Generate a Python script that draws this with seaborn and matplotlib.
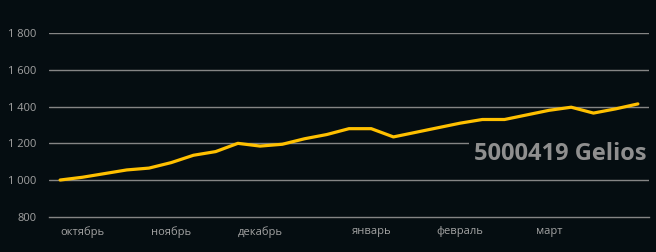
import matplotlib
matplotlib.use("Agg")
import matplotlib.pyplot as plt
import seaborn as sns
import pandas as pd

weeks = list(range(27))
values = [1000, 1015, 1035, 1055, 1065, 1095, 1135, 1155, 1200, 1185, 1195, 1225, 1248,
          1280, 1280, 1235, 1260, 1285, 1310, 1330, 1330, 1355, 1380, 1397, 1365, 1388, 1415]
month_pos = [1, 5, 9, 14, 18, 22]
month_labels = ["октябрь", "ноябрь", "декабрь", "январь", "февраль", "март"]
y_ticks = [800, 1000, 1200, 1400, 1600, 1800]
y_labels = ["800", "1 000", "1 200", "1 400", "1 600", "1 800"]
title = "5000419 Gelios"

BG = "#050d11"
GRID = "#858585"
TXT = "#a3a3a3"

sns.set_theme(style="dark")
plt.rcParams["font.family"] = ["Open Sans", "DejaVu Sans"]

df = pd.DataFrame({"week": weeks, "value": values})
fig = plt.figure(figsize=(6.56, 2.52), dpi=100, facecolor=BG)
ax = fig.add_axes([49/656, 1 - 216.7/252, 600/656, (216.7 - 33.3)/252])
ax.set_facecolor(BG)

for yv in y_ticks[1:]:
    ax.axhline(yv, color=GRID, lw=1.0, zorder=1)
sns.lineplot(data=df, x="week", y="value", color="#FFC000", lw=2.3, ax=ax, zorder=3)

ax.set_xlim(-0.5, 26.5)
ax.set_ylim(800, 1800)
ax.set_yticks(y_ticks)
ax.set_yticklabels(y_labels, color=TXT, fontsize=8)
ax.set_xticks(month_pos)
ax.set_xticklabels(month_labels, color=TXT, fontsize=8)
ax.set_xticks([-0.5], minor=True)
ax.tick_params(axis="x", which="major", length=0, pad=7)
ax.tick_params(axis="x", which="minor", length=3, width=1, color=GRID, direction="out")
ax.tick_params(axis="y", length=0, pad=9)
ax.set_xlabel("")
ax.set_ylabel("")
ax.grid(False)
for s in ["top", "right", "left"]:
    ax.spines[s].set_visible(False)
ax.spines["bottom"].set_color(GRID)
ax.spines["bottom"].set_linewidth(1.0)

fig.text(646/656, 1 - 154/252, title, ha="right", va="center", fontsize=17,
         fontweight="bold", color="#8f8f8f", family=["Open Sans", "DejaVu Sans"],
         bbox=dict(facecolor=BG, edgecolor="none", boxstyle="square,pad=0.2"), zorder=5)

fig.savefig("out.png", dpi=100, facecolor=BG)
